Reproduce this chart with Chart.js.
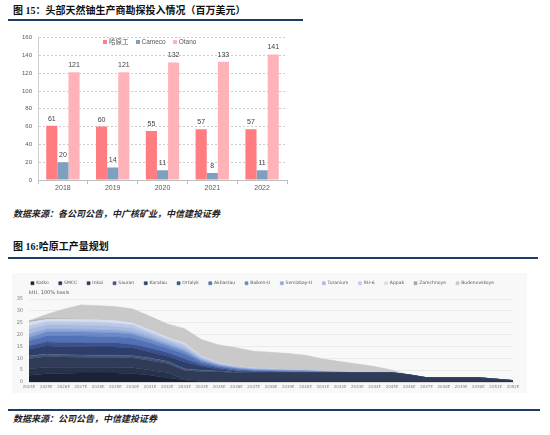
<!DOCTYPE html>
<html><head><meta charset="utf-8">
<script src="https://cdn.jsdelivr.net/npm/chart.js@4.4.0/dist/chart.umd.min.js"></script>
<style>
html,body{margin:0;padding:0;background:#fff;width:550px;height:435px;overflow:hidden;position:relative;}
.t{position:absolute;font-family:"Liberation Serif","Noto Sans CJK SC",serif;font-weight:bold;font-size:10px;color:#111;white-space:nowrap;line-height:10px;}
.rule{position:absolute;height:2px;background:#1f3b66;}
.src{position:absolute;font-family:"Noto Sans CJK SC",sans-serif;font-style:italic;font-weight:bold;font-size:9px;color:#222;white-space:nowrap;line-height:9px;}
#panel{position:absolute;left:12px;top:273px;width:515px;height:120px;background:#f8f8f8;}
#barLegend{position:absolute;left:103px;top:38px;display:flex;gap:7px;font-family:"Liberation Sans","Noto Sans CJK SC",sans-serif;font-size:6.5px;color:#595959;line-height:8px;}
#barLegend .li{display:flex;align-items:center;}
#barLegend .li i{display:inline-block;width:4px;height:4px;margin-right:2px;}
canvas{position:absolute;}
#c1{left:0;top:28px;}
#c2{left:12px;top:271px;}
</style></head>
<body>
<div class="t" style="left:13px;top:6px;">图 15：头部天然铀生产商勘探投入情况（百万美元）</div>
<div class="rule" style="left:8px;top:19px;width:295px;"></div>
<canvas id="c1" width="300" height="170"></canvas>
<div id="barLegend"></div>
<div class="src" style="left:13px;top:209px;">数据来源：各公司公告，中广核矿业，中信建投证券</div>

<div class="t" style="left:13px;top:242px;">图 16:哈原工产量规划</div>
<div class="rule" style="left:8px;top:257px;width:530px;"></div>
<div id="panel"></div>
<canvas id="c2" width="515" height="122"></canvas>
<div class="rule" style="left:8px;top:409px;width:532px;"></div>
<div class="src" style="left:13px;top:414px;">数据来源：公司公告，中信建投证券</div>

<script>
// ---------- Figure 15 data ----------
const barYears = ['2018','2019','2020','2021','2022'];
const kazValues = [61, 60, 55, 57, 57];
const camecoValues = [20, 14, 11, 8, 11];
const oranoValues = [121, 121, 132, 133, 141];
const barSeriesNames = ['哈原工', 'Cameco', 'Otano'];
const barColors = ['#FF7C80', '#7F9FC0', '#FFB3B8'];

// ---------- Figure 16 data (ktU, 100% basis) ----------
const prodYears = ['2024E','2025E','2026E','2027E','2028E','2029E','2030E','2031E','2032E','2033E','2034E','2035E','2036E','2037E','2038E','2039E','2040E','2041E','2042E','2043E','2044E','2045E','2046E','2047E','2048E','2049E','2050E','2051E','2052E'];
const katko       = [2.8,3.5,3.7,3.8,3.8,3.8,3.6,2.8,1.8,0.8,0.2,0,0,0,0,0,0,0,0,0,0,0,0,0,0,0,0,0,0];
const smcc        = [2.8,2.7,2.5,2.4,2.4,2.4,2.4,2.3,2.2,0.4,0.2,0.1,0,0,0,0,0,0,0,0,0,0,0,0,0,0,0,0,0];
const inkai       = [4.2,4.6,4.3,4.2,4.1,4.1,4.1,4.0,3.8,3.6,4.0,4.2,3.9,3.9,4.0,3.9,3.9,3.9,3.9,3.9,3.9,3.9,3.0,1.8,1.8,1.8,1.8,1.2,0.6];
const sauran      = [1.2,1.0,1.0,1.0,1.0,1.0,1.0,1.0,0.9,0.8,0.6,0.3,0.2,0,0,0,0,0,0,0,0,0,0,0,0,0,0,0,0];
const karatau     = [2.8,3.4,3.5,3.5,3.5,3.5,3.2,2.6,2.2,2.8,1.5,0.8,0.4,0.2,0,0,0,0,0,0,0,0,0,0,0,0,0,0,0];
const ortalyk     = [1.4,1.7,1.7,1.7,1.7,1.7,1.5,1.6,1.5,1.4,0.8,0.5,0.4,0.3,0.2,0.2,0.1,0,0,0,0,0,0,0,0,0,0,0,0];
const akbastau    = [2.1,2.6,2.8,2.8,2.8,2.6,2.7,2.2,1.8,2.0,1.0,0.6,0.5,0.4,0.4,0.3,0.3,0.2,0.1,0,0,0,0,0,0,0,0,0,0];
const baikenU     = [1.4,1.6,1.7,1.7,1.7,1.7,1.6,1.4,1.2,1.1,0.6,0.4,0.35,0.3,0.3,0.3,0.3,0.2,0.1,0,0,0,0,0,0,0,0,0,0];
const semizbayU   = [1.5,1.2,1.1,1.1,1.1,1.1,1.0,1.0,0.9,0.8,0.5,0.3,0.25,0.2,0.2,0.2,0.2,0.1,0,0,0,0,0,0,0,0,0,0,0];
const turanium    = [2.0,1.7,1.7,1.7,1.7,1.5,1.6,1.2,1.0,1.1,0.6,0.4,0.3,0.3,0.3,0.2,0.2,0.1,0,0,0,0,0,0,0,0,0,0,0];
const ru6         = [1.5,1.4,1.4,1.4,1.4,1.4,1.3,1.0,0.9,0.9,0.5,0.3,0.2,0.2,0.1,0.1,0,0,0,0,0,0,0,0,0,0,0,0,0];
const appak       = [1.5,1.0,1.1,1.1,1.1,1.1,1.0,0.9,0.8,0.7,0.4,0.3,0.2,0.2,0.2,0.1,0.1,0,0,0,0,0,0,0,0,0,0,0,0];
const zarechnoye  = [0.5,0.4,0.2,0,0,0,0,0,0,0,0,0,0,0,0,0,0,0,0,0,0,0,0,0,0,0,0,0,0];
const budenovskoye= [0.1,1.7,4.0,6.1,5.9,5.9,5.8,5.7,5.5,6.1,6.9,7.4,7.7,7.0,6.8,6.7,6.2,5.2,4.5,3.7,2.6,1.1,0,0,0,0,0,0,0];
const prodSeriesNames = ['Katko','SMCC','Inkai','Sauran','Karatau','Ortalyk','Akbastau','Baiken-U','Semizbay-U','Turanium','RU-6','Appak','Zarechnoye','Budenovskoye'];
const prodColors = ['#1b2339','#27324d','#2f3b57','#46557a','#2d3e6b','#3b5191','#5272b8','#6c89c8','#8ea6d8','#a7badf','#bccae6','#d6def0','#a6a6a6','#c9c9c9'];
const prodSeries = [katko,smcc,inkai,sauran,karatau,ortalyk,akbastau,baikenU,semizbayU,turanium,ru6,appak,zarechnoye,budenovskoye];

Chart.defaults.font.family = '"Liberation Sans","Noto Sans CJK SC",sans-serif';
Chart.defaults.animation = false;

// legend for fig 15 (HTML text built from series arrays)
const lg = document.getElementById('barLegend');
barSeriesNames.forEach((n, i) => {
  const it = document.createElement('span');
  it.className = 'li';
  const m = document.createElement('i');
  m.style.background = barColors[i];
  it.appendChild(m);
  it.appendChild(document.createTextNode(n));
  lg.appendChild(it);
});

const barLabelPlugin = {
  id: 'barLabels',
  afterDatasetsDraw(chart) {
    const ctx = chart.ctx;
    ctx.save();
    ctx.font = '7px "Liberation Sans", Arial, sans-serif';
    ctx.fillStyle = '#404040';
    ctx.textAlign = 'center';
    ctx.textBaseline = 'bottom';
    chart.data.datasets.forEach((ds, i) => {
      chart.getDatasetMeta(i).data.forEach((bar, j) => {
        ctx.fillText(String(ds.data[j]), bar.x, bar.y - 3.5);
      });
    });
    ctx.restore();
  }
};

new Chart(document.getElementById('c1'), {
  type: 'bar',
  data: {
    labels: barYears,
    datasets: [kazValues, camecoValues, oranoValues].map((d, i) => ({
      label: barSeriesNames[i], data: d, backgroundColor: barColors[i],
      categoryPercentage: 0.67, barPercentage: 1.0, borderWidth: 0
    }))
  },
  options: {
    responsive: false,
    layout: { padding: { top: 7, right: 13, left: 0, bottom: 0 } },
    plugins: { legend: { display: false }, tooltip: { enabled: false } },
    scales: {
      x: {
        grid: { display: true, drawOnChartArea: false, drawTicks: true, tickLength: 4, color: '#bfbfbf', tickColor: '#bfbfbf' },
        border: { display: true, color: '#bfbfbf' },
        ticks: { font: { size: 7 }, color: '#595959', padding: 0 },
        afterFit(s) { s.height = 18; }
      },
      y: {
        min: 0, max: 160,
        ticks: { stepSize: 20, font: { size: 6 }, color: '#595959', padding: 6 },
        grid: { color: '#bfbfbf', drawTicks: false, lineWidth: 0.8 },
        border: { display: true, color: '#d0d0d0', dash: [2, 2] },
        afterFit(s) { s.width = 38; }
      }
    }
  },
  plugins: [barLabelPlugin]
});

new Chart(document.getElementById('c2'), {
  type: 'line',
  data: {
    labels: prodYears,
    datasets: prodSeries.map((d, i) => ({
      label: prodSeriesNames[i], data: d,
      backgroundColor: prodColors[i], borderColor: prodColors[i], borderWidth: 0.6,
      pointRadius: 0, tension: 0, fill: i === 0 ? 'origin' : '-1'
    }))
  },
  options: {
    responsive: false,
    layout: { padding: { top: 0, right: 14, left: 0, bottom: 0 } },
    plugins: {
      tooltip: { enabled: false },
      legend: {
        position: 'top', maxHeight: 17,
        labels: { boxWidth: 3, boxHeight: 3, padding: 10, color: '#595959', font: { size: 4.5, family: '"DejaVu Sans", sans-serif' } }
      },
      title: {
        display: true, text: 'ktU, 100% basis', align: 'start', fullSize: false, weight: 500, position: 'top',
        color: '#595959', font: { size: 5, weight: 'normal', family: '"DejaVu Sans", sans-serif' }, padding: { top: 2, bottom: 3 }
      }
    },
    scales: {
      x: {
        grid: { display: false, drawTicks: false },
        border: { display: true, color: '#d9d9d9' },
        ticks: { autoSkip: false, maxRotation: 0, minRotation: 0, font: { size: 4, family: '"DejaVu Sans", sans-serif' }, color: '#7f7f7f', padding: 3 },
        afterFit(s) { s.height = 11; }
      },
      y: {
        stacked: true, min: 0, max: 35,
        ticks: { stepSize: 5, font: { size: 5, family: '"DejaVu Sans", sans-serif' }, color: '#7f7f7f', padding: 6 },
        grid: { color: '#e6e6e6', drawTicks: false, lineWidth: 0.8 },
        border: { display: false },
        afterFit(s) { s.width = 17; }
      }
    }
  }
});
</script>
</body></html>
